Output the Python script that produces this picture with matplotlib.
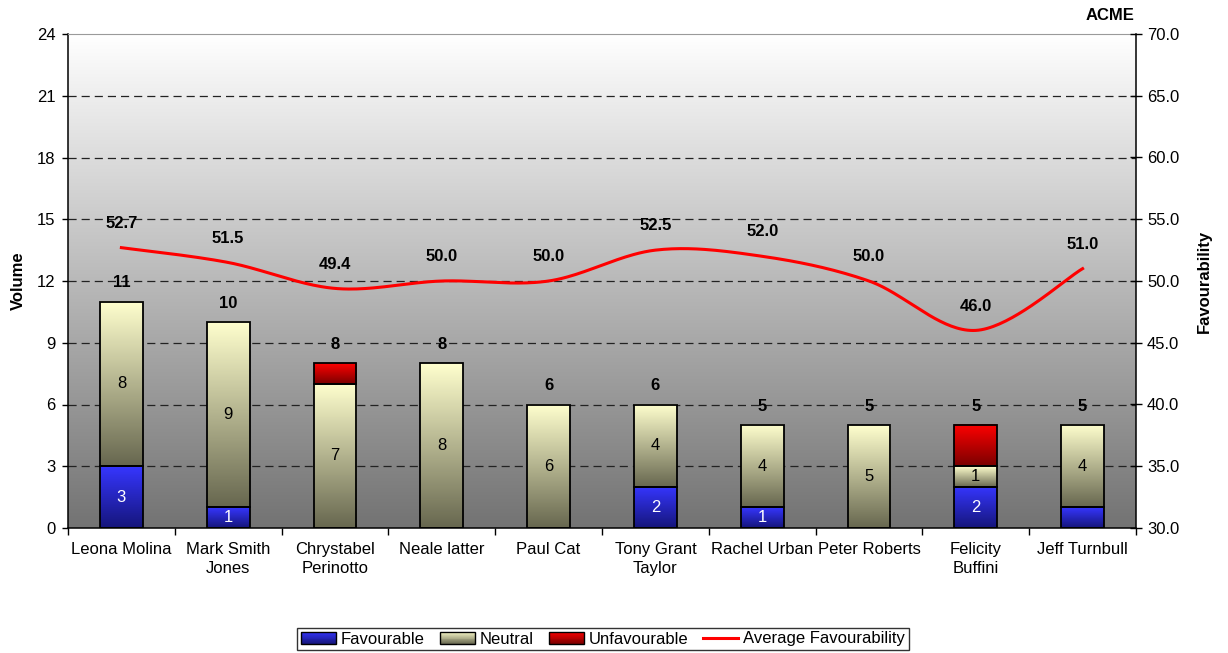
import numpy as np
import matplotlib
matplotlib.use("Agg")
import matplotlib.pyplot as plt
from matplotlib.patches import Rectangle
from matplotlib.lines import Line2D
from matplotlib.legend_handler import HandlerBase
from matplotlib.colors import to_rgb

plt.rcParams['font.family'] = ['Liberation Sans', 'DejaVu Sans']

# ---- data ----
names = ["Leona Molina", "Mark Smith\nJones", "Chrystabel\nPerinotto", "Neale latter",
         "Paul Cat", "Tony Grant\nTaylor", "Rachel Urban", "Peter Roberts",
         "Felicity\nBuffini", "Jeff Turnbull"]
favourable = [3, 1, 0, 0, 0, 2, 1, 0, 2, 1]
neutral = [8, 9, 7, 8, 6, 4, 4, 5, 1, 4]
unfavourable = [0, 0, 1, 0, 0, 0, 0, 0, 2, 0]
avg_favourability = [52.7, 51.5, 49.4, 50.0, 50.0, 52.5, 52.0, 50.0, 46.0, 51.0]
left_ticks = [0, 3, 6, 9, 12, 15, 18, 21, 24]
right_ticks = [30, 35, 40, 45, 50, 55, 60, 65, 70]

# which favourable segments carry a value label
fav_labelled = [True, True, False, False, False, True, True, False, True, False]

FS = 12
BLUE = ("#3636FF", "#15157A")
NEUTRAL = ("#FFFFCE", "#67674F")
RED = ("#FF0000", "#7A0000")


def vgrad(top, bottom, n=256):
    t = np.linspace(0, 1, n)[:, None]
    c = (1 - t) * np.array(to_rgb(top)) + t * np.array(to_rgb(bottom))
    return c[:, None, :]


def grad_bar(ax, x, y0, h, w, colors):
    if h <= 0:
        return
    ax.imshow(vgrad(*colors), extent=(x - w / 2, x + w / 2, y0, y0 + h),
              aspect='auto', origin='upper', interpolation='bilinear', zorder=2)
    ax.add_patch(Rectangle((x - w / 2, y0), w, h, fill=False,
                           edgecolor='black', lw=1.3, zorder=3))


def catmull_rom(xs, ys, steps=40):
    xs = np.asarray(xs, float)
    ys = np.asarray(ys, float)
    px = np.concatenate([[xs[0]], xs, [xs[-1]]])
    py = np.concatenate([[ys[0]], ys, [ys[-1]]])
    out_x, out_y = [], []
    for i in range(1, len(px) - 2):
        p0, p1, p2, p3 = [np.array([px[j], py[j]]) for j in (i - 1, i, i + 1, i + 2)]
        c1 = p1 + (p2 - p0) / 6.0
        c2 = p2 - (p3 - p1) / 6.0
        t = np.linspace(0, 1, steps)[:, None]
        pts = ((1 - t) ** 3) * p1 + 3 * ((1 - t) ** 2) * t * c1 + 3 * (1 - t) * t ** 2 * c2 + t ** 3 * p2
        out_x.extend(pts[:, 0])
        out_y.extend(pts[:, 1])
    return np.array(out_x), np.array(out_y)


fig = plt.figure(figsize=(12.28, 6.53), dpi=100)
ax = fig.add_axes([68 / 1228, 1 - 528 / 653, (1136 - 68) / 1228, (528 - 34) / 653])

n = len(names)
x = np.arange(n)
w = 0.4

# plot-area background gradient
ax.imshow(vgrad("#FFFFFF", "#737373"), extent=(-0.5, n - 0.5, 0, 24),
          aspect='auto', origin='upper', interpolation='bilinear', zorder=0)

for yv in left_ticks[1:-1]:
    ax.axhline(yv, color='#222222', lw=0.9, dashes=(6.5, 4), zorder=1)

for i in range(n):
    f, nu, u = favourable[i], neutral[i], unfavourable[i]
    grad_bar(ax, x[i], 0, f, w, BLUE)
    grad_bar(ax, x[i], f, nu, w, NEUTRAL)
    grad_bar(ax, x[i], f + nu, u, w, RED)
    if f > 0 and fav_labelled[i]:
        ax.text(x[i], f / 2, str(f), ha='center', va='center', color='white',
                fontsize=FS, zorder=4)
    if nu > 0:
        ax.text(x[i], f + nu / 2, str(nu), ha='center', va='center', color='black',
                fontsize=FS, zorder=4)
    total = f + nu + u
    ax.annotate(str(total), (x[i], total), xytext=(0, 13.5), textcoords='offset points',
                ha='center', va='center', fontsize=FS, fontweight='bold', zorder=4)

ax.set_xlim(-0.5, n - 0.5)
ax.set_ylim(0, 24)
ax.set_yticks(left_ticks)
ax.set_xticks(x)
ax.set_xticklabels(names, fontsize=FS, linespacing=1.38)
ax.set_xticks(np.arange(n + 1) - 0.5, minor=True)
ax.tick_params(axis='x', which='major', length=0, pad=10)
ax.tick_params(axis='x', which='minor', length=5, width=1, direction='out')
ax.tick_params(axis='y', length=4, width=1, direction='out', labelsize=FS, pad=5)

for s in ('left', 'bottom'):
    ax.spines[s].set_linewidth(1.1)
ax.spines['top'].set_color('#9a9a9a')
ax.spines['right'].set_visible(False)

ax2 = ax.twinx()
ax2.set_ylim(30, 70)
ax2.set_yticks(right_ticks)
ax2.set_yticklabels([f"{v:.1f}" for v in right_ticks])
ax2.tick_params(axis='y', length=8, width=1, direction='inout', labelsize=FS, pad=4)
for s in ('left', 'bottom', 'top'):
    ax2.spines[s].set_visible(False)
ax2.spines['right'].set_linewidth(1.1)

sx, sy = catmull_rom(x, avg_favourability)
ax2.plot(sx, sy, color='#FF0000', lw=2.2, zorder=5)

for i, v in enumerate(avg_favourability):
    ax2.annotate(f"{v:.1f}", (x[i], v), xytext=(0, 17.5), textcoords='offset points',
                 ha='center', va='center', fontsize=FS, fontweight='bold', zorder=6)
ax2.set_xlim(-0.5, n - 0.5)

fig.text(18 / 1228, 1 - 281 / 653, "Volume", rotation=90, ha='center', va='center',
         fontsize=FS, fontweight='bold')
fig.text(1204 / 1228, 1 - 281 / 653, "Favourability", rotation=90, ha='center', va='center',
         fontsize=FS, fontweight='bold')
fig.text(1110 / 1228, 1 - 15 / 653, "ACME", ha='center', va='center',
         fontsize=FS, fontweight='bold')


class GradientHandler(HandlerBase):
    def __init__(self, colors):
        super().__init__()
        self.colors = colors

    def create_artists(self, legend, orig_handle, xdescent, ydescent, width, height,
                       fontsize, trans):
        arts = []
        k = 14
        top, bot = np.array(to_rgb(self.colors[0])), np.array(to_rgb(self.colors[1]))
        for j in range(k):
            t = (j + 0.5) / k
            col = (1 - t) * top + t * bot
            y0 = -ydescent + height * (1 - (j + 1) / k)
            arts.append(Rectangle((-xdescent, y0), width, height / k, facecolor=col,
                                  edgecolor='none', transform=trans))
        arts.append(Rectangle((-xdescent, -ydescent), width, height, fill=False,
                              edgecolor='black', lw=1.0, transform=trans))
        return arts


h_fav = Rectangle((0, 0), 1, 1)
h_neu = Rectangle((0, 0), 1, 1)
h_unf = Rectangle((0, 0), 1, 1)
h_line = Line2D([], [], color='#FF0000', lw=2.2)
leg = fig.legend([h_fav, h_neu, h_unf, h_line],
                 ["Favourable", "Neutral", "Unfavourable", "Average Favourability"],
                 handler_map={h_fav: GradientHandler(BLUE), h_neu: GradientHandler(NEUTRAL),
                              h_unf: GradientHandler(RED)},
                 loc='center', bbox_to_anchor=(603 / 1228, 1 - 639 / 653), ncol=4,
                 fontsize=FS, frameon=True, fancybox=False, edgecolor='black',
                 borderpad=0.2, columnspacing=0.9, handletextpad=0.3, handlelength=2.1,
                 borderaxespad=0)
leg.get_frame().set_linewidth(1.0)

fig.savefig("out.png", dpi=100, facecolor='white')
